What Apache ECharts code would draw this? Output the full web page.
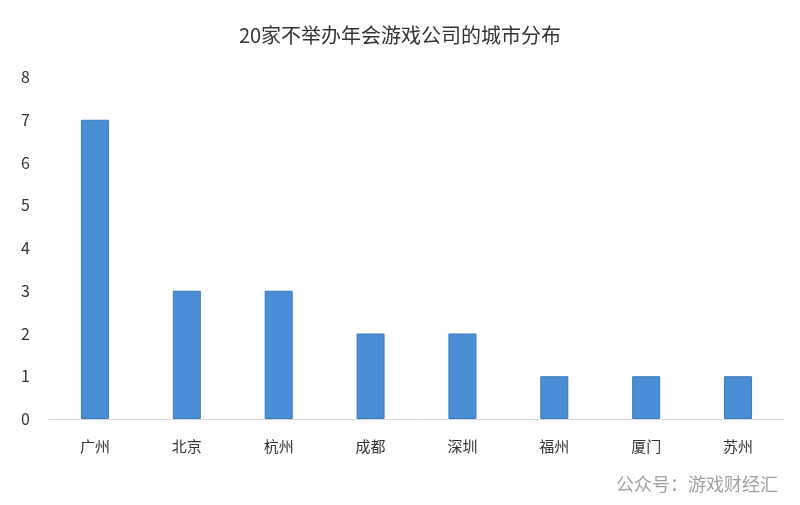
<!DOCTYPE html>
<html><head><meta charset="utf-8">
<script src="https://cdn.jsdelivr.net/npm/echarts@6/dist/echarts.min.js"></script>
<style>html,body{margin:0;padding:0;background:#fff}#c{width:800px;height:505px}</style>
</head><body><div id="c"></div>
<script>
const categories = ['广州','北京','杭州','成都','深圳','福州','厦门','苏州'];
const values = [7,3,3,2,2,1,1,1];
const titleText = '20家不举办年会游戏公司的城市分布';
const chart = echarts.init(document.getElementById('c'));
chart.setOption({
  animation:false,
  title:{text:titleText,left:'center',top:20,textStyle:{fontFamily:'Noto Sans CJK SC',fontSize:20,fontWeight:'normal',color:'#333'}},
  grid:{left:49,right:16,top:77,bottom:86},
  xAxis:{type:'category',data:categories,axisTick:{show:false},axisLine:{lineStyle:{color:'#d9d9d9'}},
    axisLabel:{margin:20,fontFamily:'Noto Sans CJK SC',fontSize:15,color:'#333'}},
  yAxis:{type:'value',min:0,max:8,interval:1,splitLine:{show:false},axisLine:{show:false},axisTick:{show:false},
    axisLabel:{margin:19,fontFamily:'Noto Sans CJK SC',fontSize:16,color:'#333'}},
  series:[{type:'bar',data:values,barWidth:28,itemStyle:{color:'#4a8fd6',borderColor:'#3a78bc',borderWidth:1}}],
  graphic:[{type:'text',right:22,bottom:12,style:{text:'公众号：游戏财经汇',fontFamily:'Noto Sans CJK SC',fontSize:18,fill:'rgba(80,80,80,0.55)'}}]
});
</script></body></html>
